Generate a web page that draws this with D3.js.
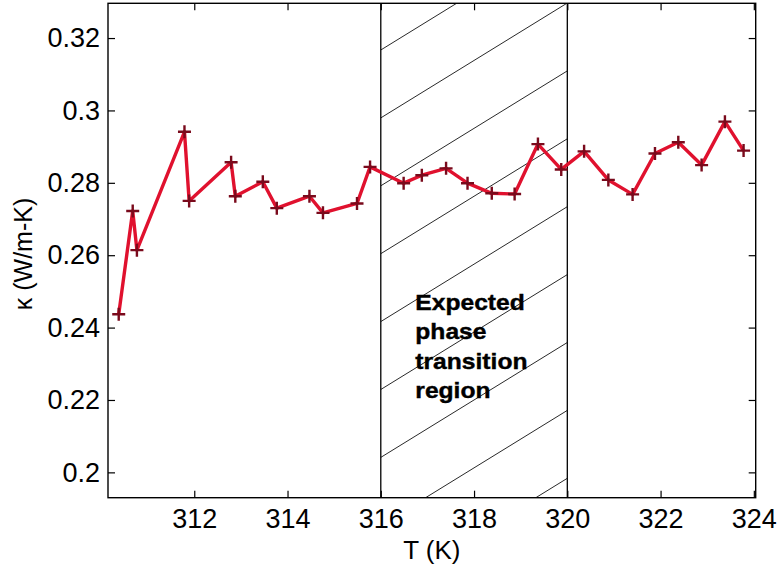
<!DOCTYPE html>
<html>
<head>
<meta charset="utf-8">
<script src="https://cdn.jsdelivr.net/npm/d3@7"></script>
<style>
  html, body { margin: 0; padding: 0; background: #ffffff; }
  svg { display: block; }
  text { font-family: "Liberation Sans", Arial, Helvetica, sans-serif; fill: #000; }
</style>
</head>
<body>
<svg id="chart" width="777" height="569"></svg>
<script>
// Temperature (K) of each measurement
const temperature = [
  310.38, 310.68, 310.77, 311.79, 311.89, 312.79, 312.88, 313.47, 313.77, 314.47,
  314.76, 315.49, 315.77, 316.49, 316.88, 317.40, 317.86, 318.38, 318.87, 319.37,
  319.87, 320.36, 320.88, 321.40, 321.88, 322.38, 322.88, 323.38, 323.78
];
// Thermal conductivity κ (W/m-K)
const conductivity = [
  0.2437, 0.2722, 0.2614, 0.2941, 0.2750, 0.2857, 0.2763, 0.2803, 0.2730, 0.2763,
  0.2717, 0.2743, 0.2844, 0.2799, 0.2821, 0.2840, 0.2799, 0.2771, 0.2769, 0.2907,
  0.2837, 0.2887, 0.2808, 0.2768, 0.2881, 0.2912, 0.2849, 0.2969, 0.2889
];
const xTicks = [312, 314, 316, 318, 320, 322, 324];
const yTicks = [0.2, 0.22, 0.24, 0.26, 0.28, 0.3, 0.32];
const xDomain = [310.15, 324.04];
const yDomain = [0.193, 0.3296];
// Temperature window of the expected phase transition
const transitionRange = [316, 320];
const transitionLabel = ["Expected", "phase", "transition", "region"];
const xLabel = "T (K)";
const yLabel = "κ (W/m-K)";

const svg = d3.select("#chart");
const box = { left: 108, top: 3.3, right: 755.7, bottom: 497.7 };

const x = d3.scaleLinear().domain(xDomain).range([box.left, box.right]);
const y = d3.scaleLinear().domain(yDomain).range([box.bottom, box.top]);

// Hatched transition band
const clip = svg.append("defs").append("clipPath").attr("id", "band-clip");
clip.append("rect")
  .attr("x", x(transitionRange[0]))
  .attr("y", box.top)
  .attr("width", x(transitionRange[1]) - x(transitionRange[0]))
  .attr("height", box.bottom - box.top);

const bandX0 = x(transitionRange[0]);
const bandX1 = x(transitionRange[1]);
const hatchStart = 50, hatchSpacing = 67.9, hatchSlope = 0.616;
svg.append("g")
  .attr("clip-path", "url(#band-clip)")
  .selectAll("line")
  .data(d3.range(-3, 12))
  .join("line")
  .attr("x1", bandX0)
  .attr("x2", bandX1)
  .attr("y1", n => hatchStart + n * hatchSpacing)
  .attr("y2", n => hatchStart + n * hatchSpacing - hatchSlope * (bandX1 - bandX0))
  .attr("stroke", "#111")
  .attr("stroke-width", 0.9);

svg.append("g")
  .selectAll("line")
  .data(transitionRange)
  .join("line")
  .attr("x1", d => x(d)).attr("x2", d => x(d))
  .attr("y1", box.top).attr("y2", box.bottom)
  .attr("stroke", "#000")
  .attr("stroke-width", 1.3);

// Band annotation
const label = svg.append("text")
  .attr("font-weight", "bold")
  .attr("font-size", 22)
  .attr("stroke", "#000")
  .attr("stroke-width", 0.4)
  .attr("transform", `translate(${x(316.74)},310) scale(1.12,1)`);
label.selectAll("tspan")
  .data(transitionLabel)
  .join("tspan")
  .attr("x", 0)
  .attr("y", (d, i) => i * 29.5)
  .text(d => d);

// Axes: ticks point inward on all four sides, labels on bottom and left
const fontSize = 27;
const bottomAxis = d3.axisBottom(x).tickValues(xTicks).tickFormat(d => String(d))
  .tickSizeInner(-7).tickSizeOuter(0).tickPadding(11.4);
const topAxis = d3.axisTop(x).tickValues(xTicks).tickFormat("")
  .tickSizeInner(-7).tickSizeOuter(0);
const leftAxis = d3.axisLeft(y).tickValues(yTicks).tickFormat(d => String(d))
  .tickSizeInner(-7).tickSizeOuter(0).tickPadding(8);
const rightAxis = d3.axisRight(y).tickValues(yTicks).tickFormat("")
  .tickSizeInner(-7).tickSizeOuter(0);

function styleAxis(g) {
  g.select(".domain").remove();
  g.selectAll(".tick line").attr("stroke", "#000").attr("stroke-width", 1.2);
  g.selectAll(".tick text")
    .attr("font-size", fontSize)
    .attr("font-family", "'Liberation Sans', Arial, sans-serif")
    .attr("fill", "#000");
}

svg.append("g").attr("transform", `translate(0,${box.bottom})`).call(bottomAxis).call(styleAxis);
svg.append("g").attr("transform", `translate(0,${box.top})`).call(topAxis).call(styleAxis);
svg.append("g").attr("transform", `translate(${box.left},0)`).call(leftAxis).call(styleAxis);
svg.append("g").attr("transform", `translate(${box.right},0)`).call(rightAxis).call(styleAxis);

// Frame
svg.append("rect")
  .attr("x", box.left).attr("y", box.top)
  .attr("width", box.right - box.left).attr("height", box.bottom - box.top)
  .attr("fill", "none").attr("stroke", "#000").attr("stroke-width", 1.4);

// Data line with + markers
const points = temperature.map((t, i) => ({ t, k: conductivity[i] }));
const line = d3.line().x(d => x(d.t)).y(d => y(d.k));
svg.append("path")
  .datum(points)
  .attr("d", line)
  .attr("fill", "none")
  .attr("stroke", "#e0112e")
  .attr("stroke-width", 3.4)
  .attr("stroke-linejoin", "round");

const m = 6.5;
svg.append("g")
  .selectAll("path")
  .data(points)
  .join("path")
  .attr("d", d => {
    const px = x(d.t), py = y(d.k);
    return `M${px - m},${py}H${px + m}M${px},${py - m}V${py + m}`;
  })
  .attr("stroke", "#7a0a1c")
  .attr("stroke-width", 2.4)
  .attr("fill", "none");

// Axis titles
svg.append("text")
  .attr("x", (box.left + box.right) / 2)
  .attr("y", 559)
  .attr("text-anchor", "middle")
  .attr("font-size", 26)
  .text(xLabel);

svg.append("text")
  .attr("transform", `translate(32,254) rotate(-90)`)
  .attr("text-anchor", "middle")
  .attr("font-size", 25)
  .text(yLabel);
</script>
</body>
</html>
